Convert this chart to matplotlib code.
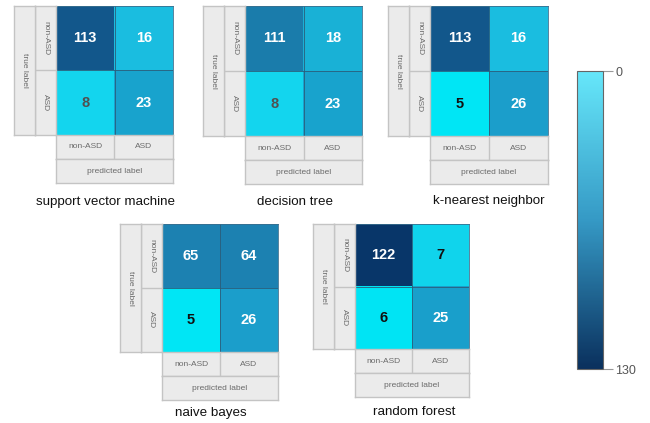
import numpy as np
import matplotlib
matplotlib.use("Agg")
import matplotlib.pyplot as plt
from matplotlib.colors import LinearSegmentedColormap, Normalize
from matplotlib.cm import ScalarMappable

plt.rcParams['font.family'] = ['Liberation Sans', 'DejaVu Sans']

# confusion matrices (rows: true non-ASD / ASD, cols: predicted non-ASD / ASD)
models = ["support vector machine", "decision tree", "k-nearest neighbor",
          "naive bayes", "random forest"]
svm = [[113, 16], [8, 23]]
dtree = [[111, 18], [8, 23]]
knn = [[113, 16], [5, 26]]
nbayes = [[65, 64], [5, 26]]
rforest = [[122, 7], [6, 25]]
matrices = [svm, dtree, knn, nbayes, rforest]
classes = ["non-ASD", "ASD"]
vmin, vmax = 0, 130

W, H = 650, 423
fig = plt.figure(figsize=(W / 100, H / 100), dpi=100)

# layout in pixels: matrix left, top, width, height, title centre x, title y
layout = [(56, 6, 117, 129, 106, 202),
          (245, 6, 117, 130, 295, 202),
          (430, 6, 118, 130, 489, 201),
          (162, 224, 116, 128, 211, 413),
          (355, 224, 114, 125, 414, 412)]

cell_cmap = LinearSegmentedColormap.from_list("cells", [
    (0 / 130, "#00f0fa"), (6 / 130, "#00e4f4"), (7 / 130, "#1acbe8"),
    (8 / 130, "#10dbf2"),
    (16 / 130, "#1bbde0"), (18 / 130, "#19b0d6"), (23 / 130, "#18a3cd"),
    (26 / 130, "#1b9ecb"), (64 / 130, "#1d82b2"), (111 / 130, "#1b7fae"),
    (113 / 130, "#13588c"), (122 / 130, "#09376a"), (1.0, "#062d5a")])
bar_cmap = LinearSegmentedColormap.from_list(
    "bar", ["#66e7fa", "#3599c5", "#0a305d"])

grey = "#ebebeb"
edge = "#c4c4c4"
lab_col = "#6a6a6a"


def px_axes(x, y, w, h):
    return fig.add_axes([x / W, 1 - (y + h) / H, w / W, h / H])


def box(x, y, w, h, split=None):
    a = px_axes(x, y, w, h)
    a.set_facecolor(grey)
    a.set_xticks([])
    a.set_yticks([])
    a.set_xlim(0, 1)
    a.set_ylim(0, 1)
    for s in a.spines.values():
        s.set_color(edge)
        s.set_linewidth(1)
    if split == "v":
        a.axvline(0.5, color=edge, lw=1)
    elif split == "h":
        a.axhline(0.5, color=edge, lw=1)
    return a


def text_color(v):
    if v < 8:
        return "#111111"
    if v < 10:
        return "#505050"
    return "white"


lw = 21
bh = 24
for name, m, (x, y, w, h, tx, ty) in zip(models, matrices, layout):
    m = np.array(m)
    ax = px_axes(x, y, w, h)
    ax.imshow(m, cmap=cell_cmap, vmin=vmin, vmax=vmax, aspect="auto",
              interpolation="nearest")
    for i in range(2):
        for j in range(2):
            ax.text(j, i, str(m[i, j]), ha="center", va="center",
                    fontsize=10.5, fontweight="bold", color=text_color(m[i, j]))
    ax.set_xticks([])
    ax.set_yticks([])
    for s in ax.spines.values():
        s.set_color("#3a6f8e")
        s.set_linewidth(0.6)
    ax.axhline(0.5, color="#2b5d7a", lw=0.6)
    ax.axvline(0.5, color="#2b5d7a", lw=0.6)

    # row labels
    rb = box(x - lw, y, lw, h, split="h")
    for k, c in enumerate(classes):
        rb.text(0.5, 0.75 - 0.5 * k, c, rotation=-90, ha="center",
                va="center", fontsize=6, color=lab_col)
    tb = box(x - 2 * lw, y, lw, h)
    tb.text(0.5, 0.5, "true label", rotation=-90, ha="center", va="center",
            fontsize=6, color=lab_col)

    # column labels
    cb = box(x, y + h, w, bh, split="v")
    for k, c in enumerate(classes):
        cb.text(0.25 + 0.5 * k, 0.5, c, ha="center", va="center",
                fontsize=6, color=lab_col)
    pb = box(x, y + h + bh, w, bh)
    pb.text(0.5, 0.5, "predicted label", ha="center", va="center",
            fontsize=6, color=lab_col)

    fig.text(tx / W, 1 - ty / H, name, ha="center", va="center",
             fontsize=9.6, color="#111111")

# colour bar
cax = px_axes(577, 71, 26, 298)
sm = ScalarMappable(norm=Normalize(vmin, vmax), cmap=bar_cmap)
cb = fig.colorbar(sm, cax=cax, ticks=[0, 130])
cax.invert_yaxis()
cb.outline.set_edgecolor("#666666")
cb.outline.set_linewidth(0.8)
cax.tick_params(length=7, width=0.8, color="#999999", labelsize=9,
                labelcolor="#555555", pad=2)

fig.savefig("out.png", dpi=100)
